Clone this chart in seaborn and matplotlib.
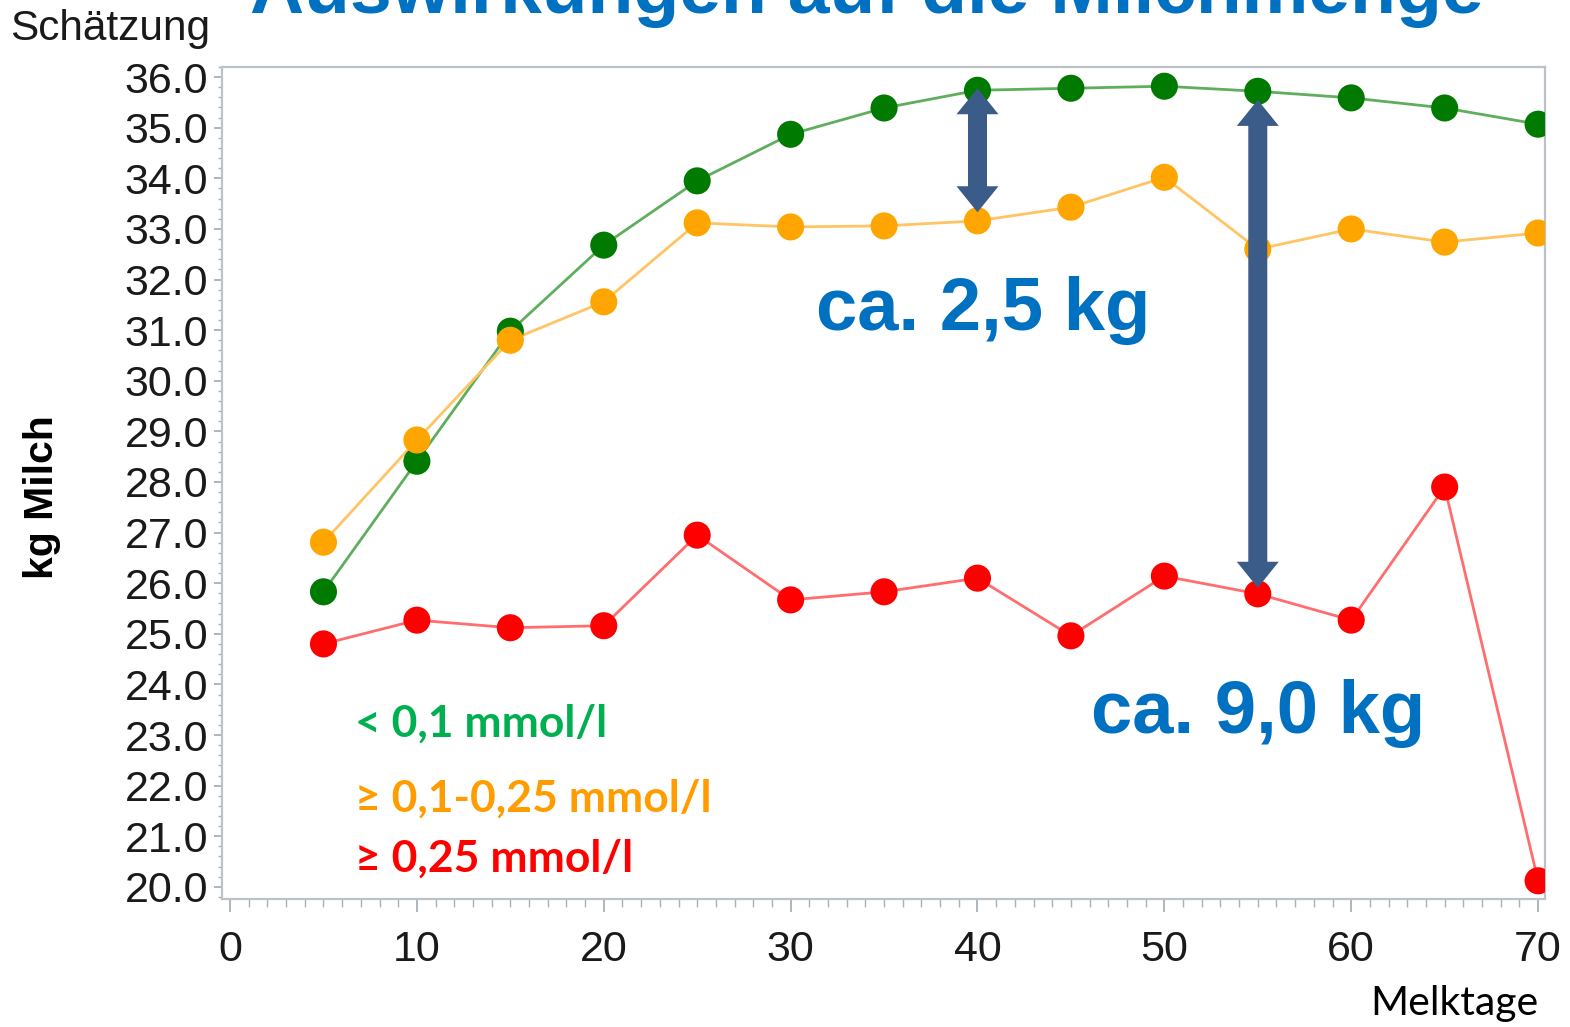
import numpy as np
import pandas as pd
import seaborn as sns
import matplotlib
matplotlib.use("Agg")
import matplotlib.pyplot as plt
from matplotlib.patches import Polygon
from matplotlib.ticker import MultipleLocator, FormatStrFormatter

# ---------------- data ----------------
days = [5, 10, 15, 20, 25, 30, 35, 40, 45, 50, 55, 60, 65, 70]
green_vals = [25.83, 28.41, 30.98, 32.68, 33.95, 34.87, 35.39, 35.74, 35.78, 35.82, 35.72, 35.59, 35.39, 35.07]
orange_vals = [26.81, 28.83, 30.80, 31.56, 33.12, 33.04, 33.06, 33.16, 33.43, 34.02, 32.60, 33.00, 32.74, 32.92]
red_vals = [24.80, 25.27, 25.12, 25.16, 26.95, 25.67, 25.83, 26.10, 24.96, 26.14, 25.79, 25.27, 27.90, 20.12]
groups = ["< 0,1 mmol/l", "≥ 0,1-0,25 mmol/l", "≥ 0,25 mmol/l"]

y_ticks = [20, 21, 22, 23, 24, 25, 26, 27, 28, 29, 30, 31, 32, 33, 34, 35, 36]
x_ticks = [0, 10, 20, 30, 40, 50, 60, 70]

title_text = "Auswirkungen auf die Milchmenge"
y_top_label = "Schätzung"
y_label = "kg Milch"
x_label = "Melktage"

# annotation arrows: (day, top value, bottom value) and labels
arrow_days = [40, 55]
arrow_tops = [35.78, 35.55]
arrow_bottoms = [33.33, 25.91]
diff_labels = ["ca. 2,5 kg", "ca. 9,0 kg"]

# ---------------- frame ----------------
df = pd.DataFrame({
    "day": days * 3,
    "kg": green_vals + orange_vals + red_vals,
    "group": [groups[0]] * len(days) + [groups[1]] * len(days) + [groups[2]] * len(days),
})

marker_pal = {groups[0]: "#007a00", groups[1]: "#ffa500", groups[2]: "#ff0000"}
line_pal = {groups[0]: "#5fae5f", groups[1]: "#ffc463", groups[2]: "#ff6e6e"}
text_pal = {groups[0]: "#00b050", groups[1]: "#ff9d00", groups[2]: "#ff0000"}

sns.set_style("white")
plt.rcParams["font.family"] = ["Liberation Sans", "DejaVu Sans"]

W, H = 1570, 1027
fig = plt.figure(figsize=(W / 100, H / 100), dpi=100)
ax = fig.add_axes([222 / W, 1 - 899 / H, (1545 - 222) / W, (899 - 67) / H])

sns.lineplot(data=df, x="day", y="kg", hue="group", palette=line_pal,
             linewidth=2.0, legend=False, ax=ax, zorder=2)
sns.scatterplot(data=df, x="day", y="kg", hue="group", palette=marker_pal,
                s=380, linewidth=0, legend=False, ax=ax, zorder=3)

ax.set_xlim(-0.43, 70.37)
ax.set_ylim(19.76, 36.2)
ax.set_xlabel("")
ax.set_ylabel("")

ax.set_yticks(y_ticks)
ax.yaxis.set_major_formatter(FormatStrFormatter("%.1f"))
ax.yaxis.set_minor_locator(MultipleLocator(0.2))
ax.set_xticks(x_ticks)
ax.xaxis.set_minor_locator(MultipleLocator(1))

tick_col = "#a9b0b8"
ax.tick_params(axis="both", which="major", direction="out", color=tick_col,
               width=1.3, labelsize=31, labelcolor="#1a1a1a")
ax.tick_params(axis="y", which="major", length=6, pad=4)
ax.tick_params(axis="y", which="minor", length=3, width=1.0, color=tick_col)
ax.tick_params(axis="x", which="major", length=9, pad=13)
ax.tick_params(axis="x", which="minor", length=6, width=1.0, color=tick_col)
ax.tick_params(left=True, bottom=True, which="both")

for s in ax.spines.values():
    s.set_color("#bcc2c8")
    s.set_linewidth(1.6)
    s.set_visible(True)

# ---------------- arrows ----------------
def double_arrow(xd, ytop, ybot, shaft=19, head_w=42, head_l=26, color="#3b5b88"):
    x0, yt = ax.transData.transform((xd, ytop))
    _, yb = ax.transData.transform((xd, ybot))
    hs, hw = shaft / 2, head_w / 2
    pts = [
        (x0, yt),
        (x0 + hw, yt - head_l),
        (x0 + hs, yt - head_l),
        (x0 + hs, yb + head_l),
        (x0 + hw, yb + head_l),
        (x0, yb),
        (x0 - hw, yb + head_l),
        (x0 - hs, yb + head_l),
        (x0 - hs, yt - head_l),
        (x0 - hw, yt - head_l),
    ]
    poly = Polygon(pts, closed=True, facecolor=color, edgecolor="none",
                   transform=None, zorder=5)
    fig.add_artist(poly)

for d, t, b in zip(arrow_days, arrow_tops, arrow_bottoms):
    double_arrow(d, t, b)

# ---------------- texts ----------------
blue = "#0070c0"
fig.text(983 / W, 1 - 330 / H, diff_labels[0], color=blue, fontsize=53.5,
         fontweight="bold", ha="center", va="baseline")
fig.text(1258 / W, 1 - 733 / H, diff_labels[1], color=blue, fontsize=53.5,
         fontweight="bold", ha="center", va="baseline")

fig.text(867 / W, 1 - 13 / H, title_text, color=blue, fontsize=54,
         fontweight="bold", ha="center", va="baseline")

fig.text(10 / W, 1 - 40 / H, y_top_label, color="#1a1a1a", fontsize=30.5,
         ha="left", va="baseline")
fig.text(42 / W, 1 - 497 / H, y_label, color="black", fontsize=29.5,
         fontweight="bold", rotation=90, ha="center", va="center")
fig.text(1538 / W, 1 - 1015 / H, x_label, color="black", fontsize=29.5,
         ha="right", va="baseline", family=["Lato", "DejaVu Sans"])

legend_baselines = [737, 812, 872]
for g, yb in zip(groups, legend_baselines):
    fig.text(355 / W, 1 - yb / H, g, color=text_pal[g], fontsize=32,
             fontweight="bold", ha="left", va="baseline",
             family=["Lato", "DejaVu Sans"])

fig.savefig("out.png", dpi=100)
